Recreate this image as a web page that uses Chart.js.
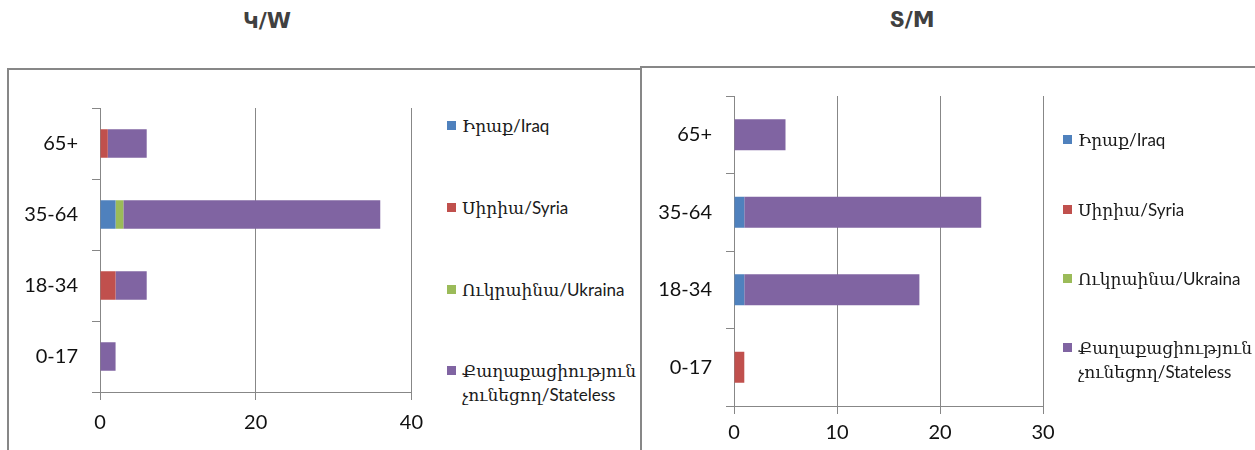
<!DOCTYPE html>
<html>
<head>
<meta charset="utf-8">
<script src="https://cdn.jsdelivr.net/npm/chart.js@4/dist/chart.umd.min.js"></script>
<style>
  html,body{margin:0;padding:0;background:#fff;width:1255px;height:450px;overflow:hidden;position:relative;}
  .panel{position:absolute;border:2px solid #878787;box-sizing:border-box;}
  .title{position:absolute;font-family:"DejaVu Sans",sans-serif;font-weight:bold;font-size:22px;color:#404040;transform:translate(-50%,-50%);white-space:nowrap;}
  .cw{position:absolute;}
  .leg{position:absolute;font-family:Lato,"DejaVu Serif","DejaVu Sans",serif;font-size:17px;color:#1a1a1a;line-height:24px;}
  .leg .sw{position:absolute;width:9px;height:9px;}
  .leg .tx{position:absolute;white-space:nowrap;}
</style>
</head>
<body>
<div class="panel" style="left:7px;top:68px;width:635px;height:420px;"></div>
<div class="panel" style="left:640px;top:66px;width:700px;height:420px;"></div>
<div class="title" style="left:267px;top:20px;">Կ/W</div>
<div class="title" style="left:912px;top:19px;">Տ/M</div>
<div class="cw" style="left:10px;top:70px;width:424px;height:380px;"><canvas id="cW"></canvas></div>
<div class="cw" style="left:644px;top:70px;width:420px;height:380px;"><canvas id="cM"></canvas></div>
<div id="legW"></div>
<div id="legM"></div>
<script>
// ---- data ----
const categories = ['65+', '35-64', '18-34', '0-17'];
const seriesNames = ['Իրաք/Iraq', 'Սիրիա/Syria', 'Ուկրաինա/Ukraina', ['Քաղաքացիություն', 'չունեցող/Stateless']];
const seriesColors = ['#4F81BD', '#C0504D', '#9BBB59', '#8064A2'];

// Women (Կ/W)
const iraqW      = [0, 2, 0, 0];
const syriaW     = [1, 0, 2, 0];
const ukraineW   = [0, 1, 0, 0];
const statelessW = [5, 33, 4, 2];

// Men (Տ/M)
const iraqM      = [0, 1, 1, 0];
const syriaM     = [0, 0, 0, 1];
const ukraineM   = [0, 0, 0, 0];
const statelessM = [5, 23, 17, 0];

const ticksW = {max: 40, step: 20};
const ticksM = {max: 30, step: 10};

const gridColor = '#878787';

function makeChart(id, series, tk, pad, xH, xPad) {
  const datasets = series.map((d, i) => ({
    label: Array.isArray(seriesNames[i]) ? seriesNames[i].join(' ') : seriesNames[i],
    data: d,
    backgroundColor: seriesColors[i],
    borderWidth: 0,
    categoryPercentage: 1.0,
    barPercentage: 0.4
  }));
  return new Chart(document.getElementById(id), {
    type: 'bar',
    data: {labels: categories, datasets},
    options: {
      indexAxis: 'y',
      responsive: true,
      maintainAspectRatio: false,
      animation: false,
      layout: {padding: pad},
      plugins: {legend: {display: false}, tooltip: {enabled: false}, title: {display: false}},
      scales: {
        x: {
          stacked: true,
          min: 0, max: tk.max,
          ticks: {stepSize: tk.step, color: '#111', padding: xPad, font: {family: 'Lato', size: 20}},
          grid: {color: gridColor, tickLength: 8, drawTicks: true, lineWidth: 1},
          border: {display: true, color: gridColor},
          afterFit(s) { s.height = xH; }
        },
        y: {
          stacked: true,
          ticks: {color: '#111', padding: 14, font: {family: 'Lato', size: 20}},
          grid: {offset: true, drawOnChartArea: false, tickLength: 8, color: gridColor},
          border: {display: true, color: gridColor},
          afterFit(s) { s.width = 90; }
        }
      }
    }
  });
}

makeChart('cW', [iraqW, syriaW, ukraineW, statelessW], ticksW, {top: 38, right: 18, left: 0, bottom: 0}, 58, 11);
makeChart('cM', [iraqM, syriaM, ukraineM, statelessM], ticksM, {top: 17, right: 21, left: 0, bottom: 0}, 44, 7);

function makeLegend(id, x, ys) {
  const host = document.getElementById(id);
  seriesNames.forEach((name, i) => {
    const lines = Array.isArray(name) ? name : [name];
    const item = document.createElement('div');
    item.className = 'leg';
    item.style.left = x + 'px';
    item.style.top = (ys[i] - 12) + 'px';
    const sw = document.createElement('div');
    sw.className = 'sw';
    sw.style.left = '0px';
    sw.style.top = '7px';
    sw.style.background = seriesColors[i];
    const tx = document.createElement('div');
    tx.className = 'tx';
    tx.style.left = '15px';
    tx.style.top = '0px';
    tx.innerHTML = lines.join('<br>');
    item.appendChild(sw);
    item.appendChild(tx);
    host.appendChild(item);
  });
}
makeLegend('legW', 447, [126, 208, 290, 371]);
makeLegend('legM', 1063, [140, 210, 279, 348]);
</script>
</body>
</html>
